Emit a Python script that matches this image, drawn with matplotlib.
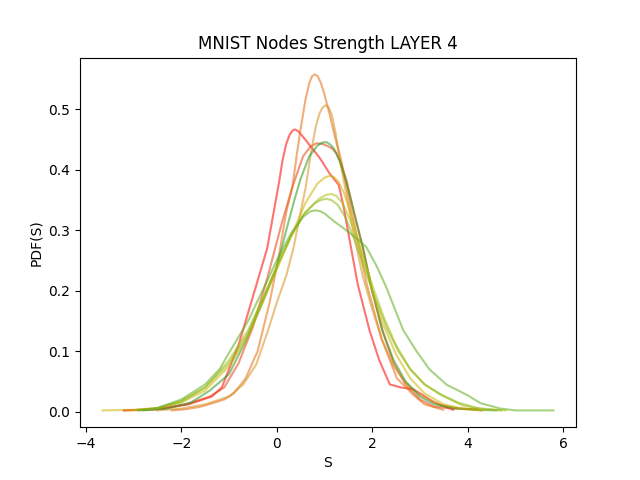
import matplotlib
matplotlib.use('Agg')
import matplotlib.pyplot as plt

# KDE curves, one per run (x, pdf)
red_x = [-3.2, -2.5, -1.85, -1.36, -1.15, -0.8, -0.5, -0.2, 0.05, 0.12, 0.2, 0.27, 0.33, 0.38, 0.45, 0.55, 0.7, 0.9, 1.1, 1.3, 1.4, 1.53, 1.7, 1.95, 2.15, 2.37, 2.6, 2.86, 3.05, 3.28, 3.7]
red_y = [0.002, 0.004, 0.012, 0.025, 0.04, 0.11, 0.19, 0.27, 0.38, 0.415, 0.443, 0.458, 0.465, 0.467, 0.464, 0.455, 0.44, 0.42, 0.395, 0.375, 0.34, 0.283, 0.21, 0.133, 0.085, 0.045, 0.04, 0.037, 0.028, 0.016, 0.003]

orange_red_x = [-3.2, -2.5, -1.9, -1.4, -1.1, -0.8, -0.5, -0.2, 0.1, 0.33, 0.55, 0.7, 0.83, 0.95, 1.05, 1.15, 1.25, 1.35, 1.46, 1.65, 1.81, 2.0, 2.22, 2.45, 2.7, 3.0, 3.3, 3.7, 4.2]
orange_red_y = [0.002, 0.004, 0.012, 0.025, 0.04, 0.08, 0.14, 0.22, 0.31, 0.372, 0.422, 0.438, 0.444, 0.443, 0.44, 0.436, 0.428, 0.41, 0.383, 0.32, 0.27, 0.2, 0.133, 0.08, 0.045, 0.02, 0.008, 0.005, 0.004]

peach_x = [-2.2, -1.9, -1.6, -1.3, -1.1, -0.9, -0.65, -0.4, -0.15, 0.05, 0.2, 0.33, 0.42, 0.51, 0.6, 0.68, 0.74, 0.8, 0.86, 0.93, 1.0, 1.1, 1.22, 1.35, 1.43, 1.65, 1.89, 2.2, 2.52, 2.86, 3.1, 3.49]
peach_y = [0.002, 0.004, 0.008, 0.015, 0.02, 0.03, 0.055, 0.1, 0.18, 0.26, 0.33, 0.372, 0.425, 0.472, 0.515, 0.543, 0.555, 0.558, 0.555, 0.543, 0.525, 0.495, 0.455, 0.417, 0.385, 0.3, 0.21, 0.12, 0.055, 0.028, 0.012, 0.003]

tan_x = [-2.5, -2.0, -1.5, -1.0, -0.7, -0.43, -0.2, 0.0, 0.2, 0.35, 0.5, 0.61, 0.72, 0.82, 0.9, 0.97, 1.03, 1.09, 1.16, 1.24, 1.32, 1.46, 1.6, 1.8, 2.0, 2.2, 2.45, 2.7, 3.0, 3.4, 3.9, 4.3]
tan_y = [0.002, 0.005, 0.012, 0.025, 0.045, 0.078, 0.13, 0.18, 0.225, 0.27, 0.33, 0.372, 0.43, 0.472, 0.494, 0.504, 0.507, 0.503, 0.49, 0.458, 0.417, 0.36, 0.3, 0.225, 0.17, 0.12, 0.075, 0.048, 0.028, 0.012, 0.004, 0.002]

green_x = [-2.8, -2.3, -1.8, -1.4, -1.0, -0.65, -0.3, 0.0, 0.2, 0.37, 0.5, 0.68, 0.85, 0.95, 1.04, 1.12, 1.2, 1.32, 1.46, 1.65, 1.81, 2.0, 2.22, 2.45, 2.7, 3.0, 3.3, 3.7, 4.2, 4.6]
green_y = [0.002, 0.005, 0.015, 0.035, 0.062, 0.117, 0.18, 0.238, 0.3, 0.35, 0.385, 0.422, 0.44, 0.445, 0.446, 0.442, 0.435, 0.415, 0.38, 0.32, 0.27, 0.2, 0.133, 0.085, 0.05, 0.025, 0.012, 0.006, 0.003, 0.002]

yellow_x = [-3.65, -3.0, -2.5, -2.0, -1.5, -1.0, -0.6, -0.3, 0.0, 0.3, 0.6, 0.85, 1.0, 1.1, 1.2, 1.3, 1.42, 1.6, 1.8, 2.0, 2.2, 2.5, 2.8, 3.1, 3.5, 3.9, 4.3]
yellow_y = [0.002, 0.003, 0.006, 0.015, 0.035, 0.075, 0.125, 0.18, 0.235, 0.29, 0.345, 0.377, 0.387, 0.39, 0.388, 0.38, 0.36, 0.315, 0.258, 0.2, 0.15, 0.095, 0.055, 0.03, 0.012, 0.005, 0.002]

lime_x = [-3.0, -2.5, -2.0, -1.5, -1.0, -0.6, -0.3, 0.0, 0.3, 0.6, 0.9, 1.05, 1.15, 1.25, 1.38, 1.55, 1.75, 2.0, 2.25, 2.5, 2.8, 3.1, 3.5, 3.9, 4.3, 4.8]
lime_y = [0.002, 0.006, 0.018, 0.04, 0.085, 0.135, 0.185, 0.24, 0.29, 0.33, 0.353, 0.359, 0.36, 0.357, 0.345, 0.315, 0.27, 0.21, 0.155, 0.11, 0.07, 0.045, 0.025, 0.01, 0.004, 0.002]

olive_x = [-2.9, -2.5, -2.0, -1.5, -1.0, -0.6, -0.3, 0.0, 0.3, 0.55, 0.8, 0.95, 1.05, 1.15, 1.28, 1.45, 1.65, 1.85, 2.05, 2.3, 2.55, 2.8, 3.1, 3.4, 3.8, 4.2, 4.7]
olive_y = [0.002, 0.005, 0.016, 0.04, 0.08, 0.13, 0.185, 0.24, 0.29, 0.325, 0.345, 0.351, 0.352, 0.35, 0.342, 0.32, 0.28, 0.235, 0.19, 0.14, 0.1, 0.07, 0.045, 0.03, 0.015, 0.006, 0.002]

light_green_x = [-2.9, -2.5, -2.0, -1.5, -1.2, -0.94, -0.6, -0.3, 0.0, 0.3, 0.55, 0.7, 0.79, 0.9, 1.0, 1.2, 1.46, 1.7, 1.88, 2.1, 2.3, 2.5, 2.65, 2.93, 3.2, 3.57, 3.78, 4.0, 4.27, 4.69, 5.0, 5.8]
light_green_y = [0.002, 0.006, 0.02, 0.045, 0.07, 0.105, 0.15, 0.2, 0.25, 0.295, 0.322, 0.331, 0.333, 0.332, 0.328, 0.315, 0.3, 0.285, 0.272, 0.24, 0.205, 0.165, 0.135, 0.1, 0.07, 0.044, 0.036, 0.027, 0.014, 0.005, 0.002, 0.002]

curves = [
    (red_x, red_y, '#ff0000'),
    (orange_red_x, orange_red_y, '#e8400f'),
    (peach_x, peach_y, '#e66a10'),
    (tan_x, tan_y, '#d89020'),
    (green_x, green_y, '#2e961a'),
    (yellow_x, yellow_y, '#ccb400'),
    (lime_x, lime_y, '#b0c010'),
    (olive_x, olive_y, '#8cb818'),
    (light_green_x, light_green_y, '#5fae20'),
]

plt.figure(figsize=(6.4, 4.8))
for xs, ys, c in curves:
    plt.plot(xs, ys, color=c, alpha=0.55)
plt.title('MNIST Nodes Strength LAYER 4')
plt.xlabel('S')
plt.ylabel('PDF(S)')
plt.savefig('out.png', dpi=100)
